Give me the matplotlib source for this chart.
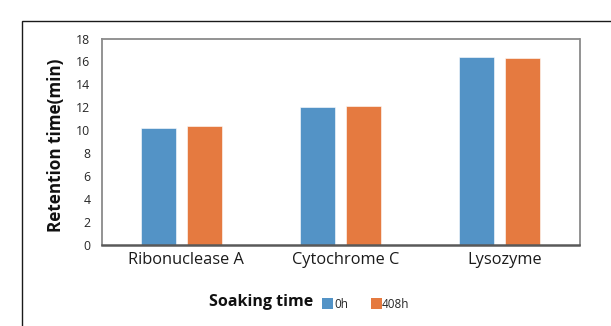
import matplotlib
matplotlib.use("Agg")
import matplotlib.pyplot as plt
from matplotlib.patches import Rectangle
from matplotlib.transforms import ScaledTranslation
import numpy as np

categories = ["Ribonuclease A", "Cytochrome C", "Lysozyme"]
series_names = ["0h", "408h"]
values_0h = [10.2, 12.0, 16.4]
values_408h = [10.4, 12.1, 16.3]
yticks = [0, 2, 4, 6, 8, 10, 12, 14, 16, 18]
legend_title = "Soaking time"
ylabel = "Retention time(min)"

blue = "#5393c6"
orange = "#e57a40"

plt.rcParams['font.family'] = ['Open Sans', 'DejaVu Sans']

fig = plt.figure(figsize=(6.11, 3.26), dpi=100)
W, H = 611, 326

# outer frame
fig.patches.append(Rectangle((22 / W, -0.2), 1.2, 1 - 20.5 / H + 0.2,
                             transform=fig.transFigure, fill=False,
                             edgecolor="#1a1a1a", linewidth=1.0))

ax = fig.add_axes([101.5 / W, 1 - 245 / H, (579.5 - 101.5) / W, (245 - 38.5) / H])
x = np.arange(len(categories))
off = 0.1445
w = 0.22
ax.bar(x - off, values_0h, width=w, color=blue, edgecolor="white", linewidth=0.4, label=series_names[0])
ax.bar(x + off, values_408h, width=w, color=orange, edgecolor="white", linewidth=0.4, label=series_names[1])

ax.set_xlim(-0.5, 2.5)
ax.set_ylim(0, 18)
ax.set_yticks(yticks)
ax.set_yticklabels([str(v) for v in yticks], fontsize=8.8, color="#262626")
ax.set_xticks(x)
ax.set_xticklabels(categories, fontsize=11.8, color="#1a1a1a")
ax.tick_params(axis="y", length=0, pad=8)
ax.tick_params(axis="x", length=0, pad=5)
shift = ScaledTranslation(5 / 100, 0, fig.dpi_scale_trans)
for lbl in ax.get_xticklabels():
    lbl.set_transform(lbl.get_transform() + shift)

for s in ["top", "right", "left"]:
    ax.spines[s].set_color("#8a8a8a")
    ax.spines[s].set_linewidth(1.3)
ax.spines["bottom"].set_color("#595959")
ax.spines["bottom"].set_linewidth(1.8)

fig.text(56 / W, 1 - 145 / H, ylabel, rotation=90, fontsize=12.3, fontweight="bold",
         ha="center", va="center", color="#111111")

# legend row
fig.text(209 / W, 1 - 302 / H, legend_title, fontsize=11.5, fontweight="bold",
         ha="left", va="center", color="#111111")
fig.patches.append(Rectangle((321.7 / W, 1 - 309 / H), 11 / W, 11 / H,
                             transform=fig.transFigure, facecolor=blue, edgecolor="none"))
fig.text(334 / W, 1 - 304 / H, series_names[0], fontsize=8.5, ha="left", va="center", color="#262626")
fig.patches.append(Rectangle((370.7 / W, 1 - 309 / H), 11 / W, 11 / H,
                             transform=fig.transFigure, facecolor=orange, edgecolor="none"))
fig.text(382 / W, 1 - 304 / H, series_names[1], fontsize=8.5, ha="left", va="center", color="#262626")

fig.savefig("out.png", dpi=100)
